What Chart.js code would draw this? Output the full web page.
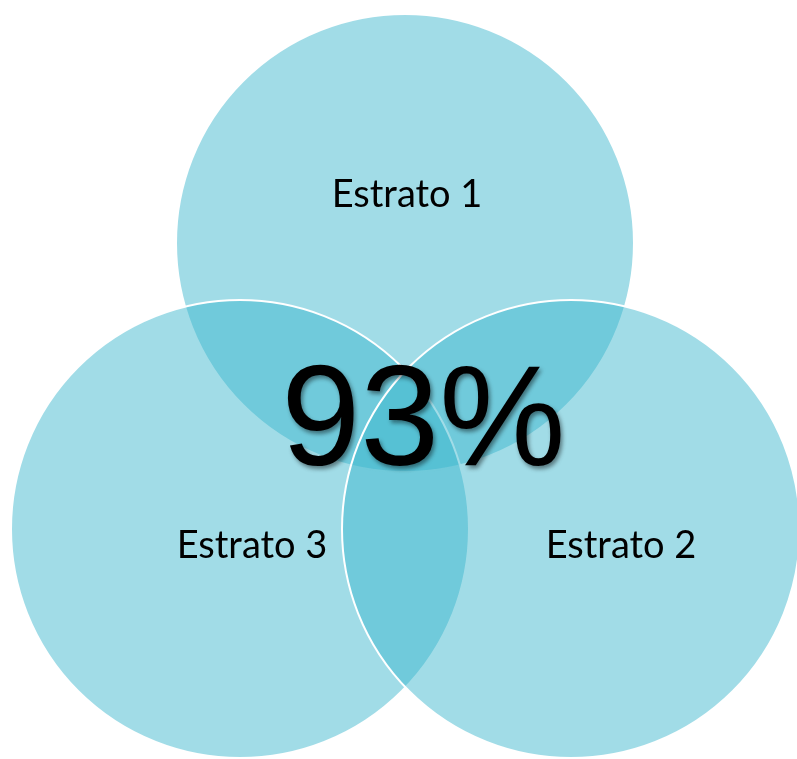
<!DOCTYPE html>
<html>
<head>
<meta charset="utf-8">
<script src="https://cdn.jsdelivr.net/npm/chart.js@4"></script>
<style>
  html, body { margin: 0; padding: 0; background: #fff; }
  #wrap { width: 797px; height: 759px; position: relative; }
</style>
</head>
<body>
<div id="wrap"><canvas id="venn"></canvas></div>
<script>
// circles in draw order: top, bottom-left, bottom-right
const categories = ['Estrato 1', 'Estrato 3', 'Estrato 2'];
const centerX = [405, 240, 571];
const centerY = [243, 529, 529];
const radius = [229, 229, 229];
const overlapValue = '93%';

// text offsets from each circle centre (baseline)
const labelOffsets = [[2, -36], [12, 29], [50, 29]];

const points = categories.map((c, i) => ({ x: centerX[i], y: centerY[i], r: radius[i] }));

const vennLabels = {
  id: 'vennLabels',
  afterDatasetsDraw(chart) {
    const ctx = chart.ctx;
    const meta = chart.getDatasetMeta(0);
    ctx.save();
    ctx.fillStyle = '#000';
    ctx.textAlign = 'center';
    ctx.textBaseline = 'alphabetic';
    ctx.font = '38px Lato, "Open Sans", sans-serif';
    meta.data.forEach((pt, i) => {
      const [dx, dy] = labelOffsets[i];
      ctx.fillText(categories[i], pt.x + dx, pt.y + dy);
    });

    // centre value, placed on the common overlap
    const cx = meta.data.reduce((s, p) => s + p.x, 0) / meta.data.length;
    const cy = meta.data.reduce((s, p) => s + p.y, 0) / meta.data.length;
    ctx.font = '142px "Liberation Sans", Arial, sans-serif';
    ctx.shadowColor = 'rgba(0,0,0,0.45)';
    ctx.shadowBlur = 4;
    ctx.shadowOffsetX = 2;
    ctx.shadowOffsetY = 3;
    ctx.fillText(overlapValue, cx + 18, cy + 31);
    ctx.restore();
  }
};

new Chart(document.getElementById('venn'), {
  type: 'bubble',
  data: {
    labels: categories,
    datasets: [{
      data: points,
      backgroundColor: 'rgba(59, 181, 205, 0.48)',
      borderColor: '#ffffff',
      borderWidth: 2,
      hoverBorderWidth: 2,
      clip: false
    }]
  },
  options: {
    responsive: true,
    maintainAspectRatio: false,
    animation: false,
    events: [],
    layout: { padding: 0, autoPadding: false },
    plugins: {
      legend: { display: false },
      tooltip: { enabled: false }
    },
    scales: {
      x: { type: 'linear', min: 0, max: 797, display: false },
      y: { type: 'linear', min: 0, max: 759, reverse: true, display: false }
    }
  },
  plugins: [vennLabels]
});
</script>
</body>
</html>
